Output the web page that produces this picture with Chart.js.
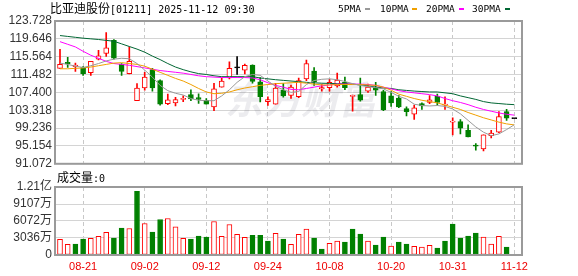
<!DOCTYPE html>
<html>
<head>
<meta charset="utf-8">
<title>比亚迪股份 K线</title>
<script src="https://cdn.jsdelivr.net/npm/chart.js@4.4.1/dist/chart.umd.min.js"></script>
<style>
  html, body { margin: 0; padding: 0; background: #fff; }
  #wrap { position: relative; width: 578px; height: 276px; overflow: hidden; }
  canvas { position: absolute; left: 0; }
  #kline { top: 0; }
  #vol { top: 172px; }
  .txt { position: absolute; white-space: nowrap; color: #000; line-height: 14px; height: 14px; }
  .cjk { font-family: 'Noto Sans CJK SC', sans-serif; font-size: 12px; }
  .mono { font-family: 'DejaVu Sans Mono', monospace; font-size: 10px; }
  .lg { position: absolute; top: 2px; color: #000; font-family: 'DejaVu Sans Mono', monospace; font-size: 9.5px; line-height: 14px; }
  .dash { position: absolute; top: 8px; width: 5px; height: 2px; }
</style>
</head>
<body>
<div id="wrap">
  <canvas id="kline" width="578" height="174"></canvas>
  <canvas id="vol" width="578" height="104"></canvas>
  <div class="txt" style="left:50px;top:1px;"><span class="cjk">比亚迪股份</span><span class="mono">[01211] 2025-11-12 09:30</span></div>
  <div class="lg" style="left:338px;">5PMA</div><div class="dash" style="left:365px;background:#999;"></div>
  <div class="lg" style="left:380px;">10PMA</div><div class="dash" style="left:412px;background:#f0a000;"></div>
  <div class="lg" style="left:426px;">20PMA</div><div class="dash" style="left:459px;background:#ff00ff;"></div>
  <div class="lg" style="left:472px;">30PMA</div><div class="dash" style="left:505px;background:#006633;"></div>
  <div class="txt" style="left:57px;top:170px;"><span class="cjk">成交量</span><span class="mono">:0</span></div>
</div>
<script>
// ---- 数据 ----
const dates = ['08-18','08-19','08-20','08-21','08-22','08-25','08-26','08-27','08-28','08-29',
  '09-01','09-02','09-03','09-04','09-05','09-08','09-09','09-10','09-11','09-12',
  '09-15','09-16','09-17','09-18','09-19','09-22','09-23','09-24','09-25','09-26',
  '09-29','09-30','10-02','10-03','10-06','10-08','10-09','10-10','10-13','10-14',
  '10-15','10-16','10-17','10-20','10-21','10-22','10-23','10-24','10-27','10-28',
  '10-30','10-31','11-03','11-04','11-05','11-06','11-07','11-10','11-11','11-12'];

const opens = [112.9,114.3,113.3,113.1,111.9,115.0,116.3,119.3,113.9,111.7,
  105.5,108.4,112.6,110.1,104.8,105.0,105.8,106.9,106.2,105.6,
  104.1,108.6,110.7,113.0,112.5,113.65,109.8,105.3,104.7,107.85,
  106.7,106.4,110.5,112.3,108.2,108.5,108.9,109.7,106.5,106.9,
  107.7,108.5,107.6,106.6,106.1,103.7,102.4,104.85,105.1,106.5,
  104.5,100.6,100.7,98.7,95.3,94.5,97.5,98.3,103.0,101.4];
const highs = [117.25,115.4,114.1,113.3,114.5,117.0,121.1,119.5,114.0,117.8,
  109.4,112.0,112.9,110.3,107.0,106.3,106.6,108.0,107.1,106.0,
  109.5,110.7,114.4,115.6,113.9,113.7,110.8,106.4,109.5,109.4,
  109.1,110.7,114.8,113.1,109.2,110.4,111.8,110.9,106.8,110.7,
  109.3,109.7,107.9,107.6,106.7,104.1,104.5,105.0,106.7,107.0,
  106.4,101.6,101.2,100.0,95.7,97.7,98.7,103.0,103.5,101.4];
const lows = [112.9,113.1,112.2,111.3,111.3,114.8,115.6,115.0,111.3,111.6,
  105.5,107.9,107.7,104.5,104.6,104.3,105.3,105.5,104.9,104.7,
  103.2,108.6,110.5,111.5,111.6,109.5,105.2,104.4,104.7,106.3,
  106.0,106.2,110.1,109.0,107.7,107.7,108.6,108.0,103.1,105.4,
  107.4,106.7,103.2,104.2,103.9,102.0,101.2,103.5,104.85,104.5,
  103.5,97.7,97.9,97.2,94.2,94.0,97.0,98.2,101.0,101.4];
const closes = [113.8,113.9,113.65,111.7,114.5,115.75,117.6,115.2,112.2,114.5,
  108.4,110.9,108.4,104.7,105.7,105.75,106.0,105.9,105.8,104.7,
  108.2,110.0,112.9,113.0,113.6,109.9,106.4,105.75,108.4,106.6,
  108.6,110.1,114.0,109.8,108.5,109.7,110.2,108.5,106.6,105.6,
  108.6,107.9,103.4,105.0,104.1,103.0,103.9,104.3,105.7,105.1,
  104.7,100.8,99.2,97.2,95.1,97.7,98.1,101.85,101.5,101.4];

const ma5 = [114.1,113.8,113.4,113.1,113.5,114.0,114.6,115.0,115.2,115.1,
  114.0,112.5,110.9,109.0,107.8,107.2,106.8,106.0,105.6,105.5,
  105.5,106.6,108.0,109.7,111.0,111.5,111.3,110.0,108.8,108.0,
  107.4,107.6,109.2,110.1,110.4,110.5,110.3,109.9,109.4,109.0,
  108.7,108.5,108.2,107.4,106.5,105.9,104.7,104.4,104.3,104.4,
  104.2,103.6,102.5,101.0,99.5,98.3,97.5,97.9,98.9,100.0];
const ma10 = [112.8,112.8,112.9,113.0,113.2,113.5,113.8,114.1,114.2,114.0,
  113.8,113.4,112.7,112.0,111.3,110.6,110.0,109.2,108.3,107.5,
  107.1,107.2,107.5,108.0,108.4,108.7,109.0,109.2,109.4,109.5,
  109.6,109.7,109.5,109.3,109.1,109.1,109.2,109.2,109.2,109.2,
  109.1,109.0,108.6,107.9,107.0,106.5,106.0,105.6,105.3,105.0,
  104.5,104.0,103.5,102.8,102.2,101.6,101.1,100.6,100.2,99.96];
const ma20 = [119.0,118.4,117.8,116.8,115.9,115.2,114.5,114.0,113.8,113.6,
  113.3,113.0,112.7,112.4,112.2,112.0,111.8,111.5,111.2,111.0,
  110.9,110.8,110.8,110.8,110.8,110.7,110.3,109.6,109.0,108.6,
  108.1,108.0,108.3,108.6,108.9,109.1,109.3,109.3,109.3,109.3,
  109.2,109.0,108.6,108.2,107.8,107.5,107.3,107.1,106.9,106.6,
  106.0,105.5,105.1,104.6,104.0,103.5,103.1,102.7,102.4,102.2];
const ma30 = [120.4,120.2,120.0,119.8,119.65,119.5,119.3,119.1,118.5,117.9,
  117.3,116.6,115.7,114.9,114.0,113.2,112.6,112.1,111.7,111.5,
  111.2,111.0,111.0,111.0,111.0,111.0,110.7,110.5,110.3,110.15,
  110.0,109.85,109.7,109.6,109.5,109.45,109.4,109.35,109.3,109.1,
  108.9,108.6,108.4,108.3,108.0,107.85,107.7,107.6,107.5,107.5,
  107.3,107.1,106.6,106.2,105.8,105.3,105.0,104.85,104.7,104.6];

// 成交量（万股）
const volumes = [2780,1900,1955,2843,2962,3317,4028,3021,4798,4739,
  11374,5628,4088,6339,6516,5035,2962,2843,3377,3199,
  5983,3317,5450,3673,3140,3495,3495,2488,3851,2843,
  1896,3673,4621,3021,1066,2073,2488,2310,4621,3732,
  2488,1777,3199,1600,2310,1955,1540,1422,1718,1244,
  2488,5509,3021,3377,3910,3199,1955,3317,1422,0];

const priceTicks = [91.072,95.154,99.236,103.318,107.400,111.482,115.564,119.646,123.728];
const volTicks = [0,3036,6072,9107,12143];
const volTickLabels = ['0','3036万','6072万','9107万','1.21亿'];
const xTickDates = ['08-21','09-02','09-12','09-24','10-08','10-20','10-31','11-12'];

// ---- 样式 ----
const UP = '#ff0000', DOWN = '#008000', FLAT = '#000000';
const FONT = "'Liberation Sans', Arial, 'Noto Sans CJK SC', sans-serif";
const xTickIdx = xTickDates.map(d => dates.indexOf(d));

function candleColor(i) {
  if (closes[i] > opens[i]) return UP;
  if (closes[i] < opens[i]) return DOWN;
  return FLAT;
}
function volColor(i) {
  const prev = i > 0 ? closes[i - 1] : opens[i];
  return closes[i] >= prev ? UP : DOWN;
}

// 外框
const framePlugin = {
  id: 'frame',
  afterDraw(chart) {
    const { ctx, chartArea: a } = chart;
    ctx.save();
    ctx.strokeStyle = '#9a9a9a';
    ctx.lineWidth = 2;
    ctx.strokeRect(a.left, a.top, a.right - a.left, a.bottom - a.top);
    ctx.restore();
  }
};

// 水印
const watermarkPlugin = {
  id: 'watermark',
  beforeDatasetsDraw(chart) {
    const { ctx, chartArea: a } = chart;
    ctx.save();
    ctx.fillStyle = 'rgba(40,40,80,0.09)';
    ctx.font = "italic bold 38px 'Noto Sans CJK SC'";
    ctx.textBaseline = 'middle';
    ctx.fillText('东方财富', a.left + 170, a.top + 79);
    ctx.restore();
  }
};

function xAxis(showLabels, height) {
  return {
    type: 'linear',
    min: -0.65,
    max: 60,
    offset: false,
    afterBuildTicks: s => { s.ticks = xTickIdx.map(v => ({ value: v })); },
    afterFit: s => { s.height = height; },
    ticks: {
      display: showLabels,
      autoSkip: false,
      maxRotation: 0,
      padding: 5,
      color: '#ee0000',
      font: { family: FONT, size: 11 },
      callback: v => dates[v]
    },
    grid: { color: '#c8c8c8', drawTicks: false, offset: false },
    border: { display: false, dash: [4, 3] }
  };
}

function maLine(label, values, color) {
  return {
    type: 'line',
    label: label,
    data: values.map((v, i) => ({ x: i, y: v })),
    borderColor: color,
    borderWidth: 1,
    pointRadius: 0,
    tension: 0,
    order: 0
  };
}

// ---- K线图 ----
new Chart(document.getElementById('kline'), {
  type: 'bar',
  data: {
    datasets: [
      maLine('5PMA', ma5, '#999999'),
      maLine('10PMA', ma10, '#f0a000'),
      maLine('20PMA', ma20, '#ff00ff'),
      maLine('30PMA', ma30, '#006633'),
      {
        label: 'body',
        data: opens.map((o, i) => ({ x: i, y: [o, closes[i]] })),
        backgroundColor: opens.map((o, i) => candleColor(i) === UP ? '#ffffff' : candleColor(i)),
        borderColor: opens.map((o, i) => candleColor(i)),
        borderWidth: 1,
        borderSkipped: false,
        barThickness: 5,
        minBarLength: 1,
        grouped: false,
        order: 1
      },
      {
        label: 'wick',
        data: lows.map((l, i) => ({ x: i, y: [l, highs[i]] })),
        backgroundColor: lows.map((l, i) => candleColor(i)),
        borderWidth: 0,
        barThickness: 1,
        grouped: false,
        order: 2
      }
    ]
  },
  options: {
    responsive: false,
    animation: false,
    events: [],
    layout: { padding: { top: 21, right: 56, bottom: 0, left: 0 } },
    plugins: { legend: { display: false }, tooltip: { enabled: false } },
    scales: {
      x: xAxis(false, 8),
      y: {
        min: 91.072,
        max: 123.728,
        beginAtZero: false,
        afterBuildTicks: s => { s.ticks = priceTicks.map(v => ({ value: v })); },
        afterFit: s => { s.width = 55; },
        ticks: {
          autoSkip: false,
          padding: 3,
          color: '#333',
          font: { family: FONT, size: 12 },
          callback: v => v.toFixed(3)
        },
        grid: { color: '#d4d4d4', drawTicks: false },
        border: { display: false }
      }
    }
  },
  plugins: [watermarkPlugin, framePlugin]
});

// ---- 成交量 ----
new Chart(document.getElementById('vol'), {
  type: 'bar',
  data: {
    datasets: [{
      label: '成交量',
      data: volumes.map((v, i) => ({ x: i, y: v })),
      backgroundColor: volumes.map((v, i) => volColor(i) === UP ? '#ffffff' : DOWN),
      borderColor: volumes.map((v, i) => volColor(i)),
      borderWidth: 1,
      borderSkipped: false,
      barThickness: 5,
      grouped: false
    }]
  },
  options: {
    responsive: false,
    animation: false,
    events: [],
    layout: { padding: { top: 15, right: 56, bottom: 0, left: 0 } },
    plugins: { legend: { display: false }, tooltip: { enabled: false } },
    scales: {
      x: xAxis(true, 21),
      y: {
        min: 0,
        max: 12143,
        afterBuildTicks: s => { s.ticks = volTicks.map(v => ({ value: v })); },
        afterFit: s => { s.width = 55; },
        ticks: {
          autoSkip: false,
          padding: 3,
          color: '#333',
          font: { family: FONT, size: 12 },
          callback: (v, idx) => volTickLabels[idx]
        },
        grid: { color: '#d4d4d4', drawTicks: false },
        border: { display: false }
      }
    }
  },
  plugins: [framePlugin]
});
</script>
</body>
</html>
